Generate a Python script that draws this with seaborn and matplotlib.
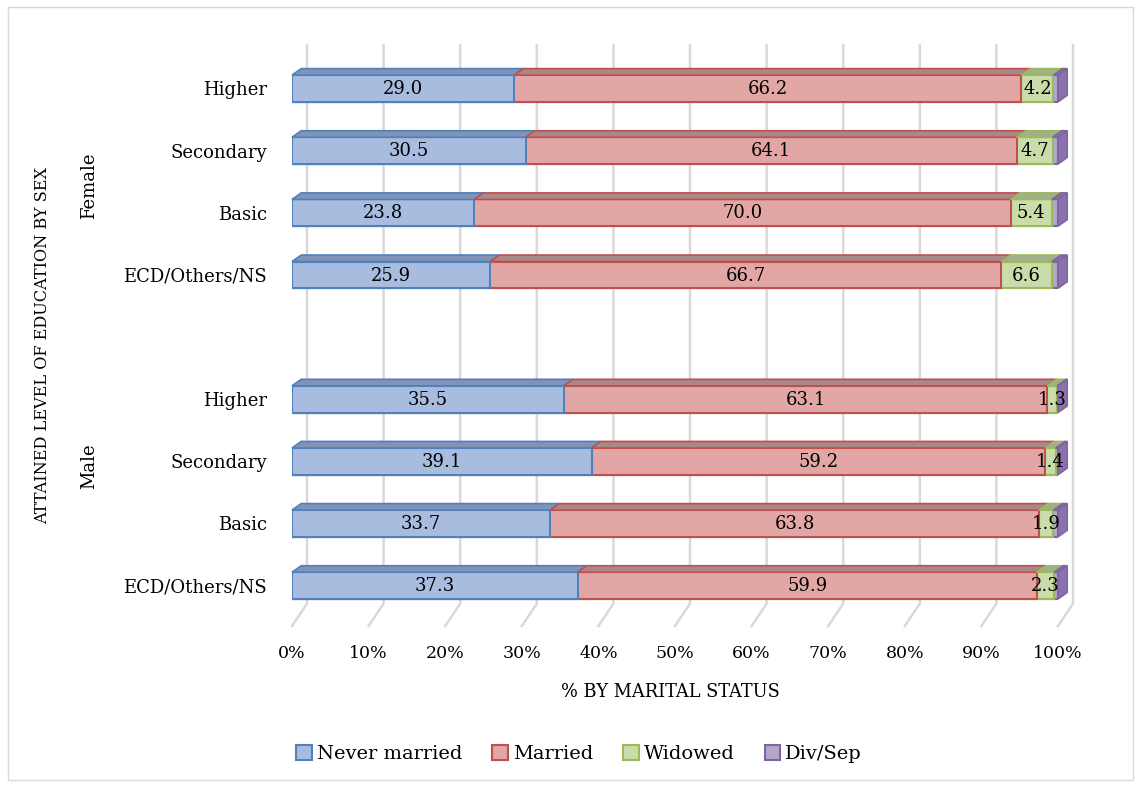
import numpy as np
import pandas as pd
import seaborn as sns
import matplotlib.pyplot as plt
import matplotlib.transforms as mtransforms
from matplotlib.patches import Polygon, Rectangle

# data
education = ["Higher", "Secondary", "Basic", "ECD/Others/NS"]
sexes = ["Female", "Male"]
statuses = ["Never married", "Married", "Widowed", "Div/Sep"]

female_never = [29.0, 30.5, 23.8, 25.9]
female_married = [66.2, 64.1, 70.0, 66.7]
female_widowed = [4.2, 4.7, 5.4, 6.6]
female_divsep = [0.6, 0.7, 0.8, 0.8]

male_never = [35.5, 39.1, 33.7, 37.3]
male_married = [63.1, 59.2, 63.8, 59.9]
male_widowed = [1.3, 1.4, 1.9, 2.3]
male_divsep = [0.1, 0.3, 0.6, 0.5]

front = ["#a7bcdf", "#e2a6a5", "#c9dca9", "#b5a6ca"]
top = ["#8193b6", "#a98888", "#a2b08a", "#8373a3"]
edge = ["#4f81bd", "#c0504d", "#9bbb59", "#8064a2"]

# build long table
rows = []
values = {"Female": [female_never, female_married, female_widowed, female_divsep],
          "Male": [male_never, male_married, male_widowed, male_divsep]}
for sex in sexes:
    for i, edu in enumerate(education):
        left = 0.0
        for s, status in enumerate(statuses):
            v = values[sex][s][i]
            rows.append({"key": f"{sex}-{edu}", "sex": sex, "edu": edu, "status": status,
                         "value": v, "left": left, "end": left + v})
            left += v
df = pd.DataFrame(rows)

order = [f"Female-{e}" for e in education] + ["gap"] + [f"Male-{e}" for e in education]

plt.rcParams["font.family"] = ["DejaVu Serif"]
fig = plt.figure(figsize=(11.42, 7.85), dpi=100)
ax = fig.add_axes([292 / 1142, 1 - 626 / 785, 766 / 1142, 581 / 785])

h = 0.43
dx, dy = 1.2, 0.105          # depth of the bars
wdx, wdy = 1.96, 0.36        # depth of the back wall

# gridlines (3D look: back wall + floor diagonal)
ylo, yhi = 8.65, -0.7
for t in range(0, 101, 10):
    ax.plot([t + wdx, t + wdx, t], [yhi, ylo - wdy, ylo], color="#d9d9d9", lw=1.8,
            clip_on=False, zorder=0, solid_joinstyle="miter")

# stacked bars drawn as overlaid cumulative bars
for s in reversed(range(len(statuses))):
    sub = df[df["status"] == statuses[s]]
    sns.barplot(data=sub, x="end", y="key", order=order, orient="h", color=front[s],
                edgecolor=edge[s], linewidth=1.5, width=h, saturation=1, ax=ax, zorder=2)

# top faces, right side face and labels
pos = {k: i for i, k in enumerate(order)}
for _, r in df.iterrows():
    yc = pos[r["key"]]
    s = statuses.index(r["status"])
    yt = yc - h / 2
    poly = Polygon([(r["left"], yt), (r["end"], yt), (r["end"] + dx, yt - dy), (r["left"] + dx, yt - dy)],
                   closed=True, facecolor=top[s], edgecolor=edge[s], lw=1.2, clip_on=False, zorder=3)
    ax.add_patch(poly)
    if s == len(statuses) - 1:
        side = Polygon([(r["end"], yt), (r["end"] + dx, yt - dy), (r["end"] + dx, yc + h / 2 - dy),
                        (r["end"], yc + h / 2)], closed=True, facecolor="#8a73ad", edgecolor=edge[s],
                       lw=1.2, clip_on=False, zorder=3)
        ax.add_patch(side)
    else:
        ax.text(r["left"] + r["value"] / 2, yc + 0.01, f"{r['value']:.1f}", ha="center", va="center",
                fontsize=13, zorder=4)

ax.set_xlim(0, 100)
ax.set_ylim(ylo, yhi)
ax.set_xticks(range(0, 101, 10))
ax.set_xticklabels([f"{t}%" for t in range(0, 101, 10)], fontsize=12.5)
shift = mtransforms.ScaledTranslation(-6 / 100, 0, fig.dpi_scale_trans)
for lab in ax.get_xticklabels():
    lab.set_transform(lab.get_transform() + shift)
ax.set_yticks(range(len(order)))
ax.set_yticklabels(education + [""] + education, fontsize=13)
ax.tick_params(length=0)
ax.tick_params(axis="x", pad=14)
ax.tick_params(axis="y", pad=18)
ax.set_xlabel("")
ax.set_ylabel("")
for sp in ax.spines.values():
    sp.set_visible(False)
ax.patch.set_visible(False)

fig.text(670 / 1142, 1 - 692 / 785, "% BY MARITAL STATUS", ha="center", va="center", fontsize=12.8)
fig.text(43 / 1142, 1 - 346 / 785, "ATTAINED LEVEL OF EDUCATION BY SEX", rotation=90,
         ha="center", va="center", fontsize=11.6)
fig.text(89 / 1142, 1 - 186 / 785, "Female", rotation=90, ha="center", va="center", fontsize=13)
fig.text(89 / 1142, 1 - 466 / 785, "Male", rotation=90, ha="center", va="center", fontsize=13)

handles = [Rectangle((0, 0), 1, 1, facecolor=front[i], edgecolor=edge[i], lw=1.5) for i in range(4)]
fig.legend(handles, statuses, loc="center", bbox_to_anchor=(579 / 1142, 1 - 754 / 785), ncol=4,
           frameon=False, fontsize=14, handlelength=0.8, handleheight=0.8, handletextpad=0.25,
           columnspacing=1.55)

fig.add_artist(Rectangle((8 / 1142, 5 / 785), 1125 / 1142, 773 / 785, transform=fig.transFigure,
                         fill=False, edgecolor="#d9d9d9", lw=1))

fig.savefig("out.png", dpi=100)
